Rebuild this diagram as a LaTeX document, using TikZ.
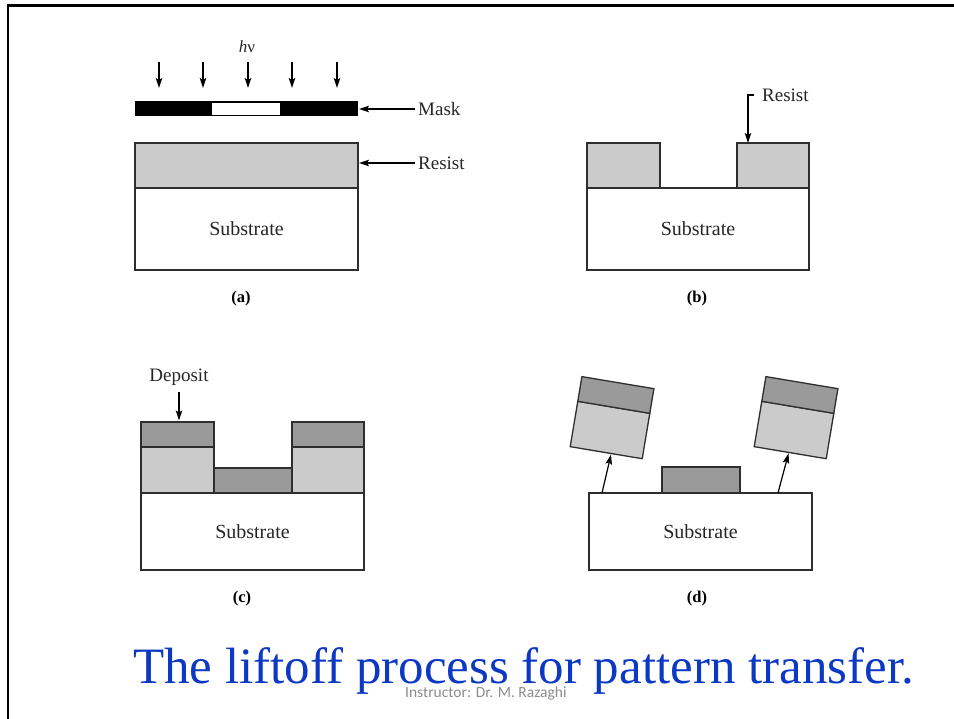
\documentclass[tikz,border=0pt]{standalone}
\usepackage{fontspec}
\setmainfont{Liberation Serif}
\newfontfamily\notefont{Carlito}
\usetikzlibrary{arrows.meta,calc}
\definecolor{resistgray}{HTML}{CBCBCB}
\definecolor{depositgray}{HTML}{9A9A9A}
\definecolor{edgegray}{HTML}{2E2E2E}
\definecolor{inkgray}{HTML}{262626}
\definecolor{titleblue}{RGB}{12,56,196}
\definecolor{notegray}{HTML}{8C8C8C}
\begin{document}
\begin{tikzpicture}[x=1pt,y=-1pt,
  layer/.style={draw=edgegray, line width=1.3pt, inner sep=0pt, outer sep=0pt},
  substrate/.style={layer, fill=white, text=inkgray, font=\fontsize{20}{23}\selectfont},
  resist/.style={layer, fill=resistgray},
  deposit/.style={layer, fill=depositgray},
  maskbar/.style={fill=black, inner sep=0pt, outer sep=0pt},
  opening/.style={fill=white, inner sep=0pt, outer sep=0pt},
  lbl/.style={text=inkgray, inner sep=3pt, font=\fontsize{19}{22}\selectfont},
  caption/.style={text=black, inner sep=0pt, font=\bfseries\fontsize{16.5}{19}\selectfont},
  arr/.style={draw=black, line width=1.2pt, -{Stealth[length=10pt,width=6.5pt,inset=2pt]}}
]
\useasboundingbox (0,0) rectangle (954,719);
% slide frame
\draw[line width=2.6pt, black] (954,5.8) -- (8,5.8) -- (8,719);

% ---------- (a) exposure through the mask ----------
\node[text=inkgray, font=\fontsize{17}{20}\selectfont] (hnu) at (247,47) {{\itshape h}ν};
\foreach \x [count=\i] in {159,203,248,292,337} {
  \coordinate (ha\i) at (\x,62);
  \coordinate (hb\i) at (\x,88);
  \draw[arr] (ha\i) -- (hb\i);
}
\node[maskbar, minimum width=223pt, minimum height=15pt] (mask) at (246.5,109) {};
\node[opening, minimum width=68pt, minimum height=12pt] (gap) at (246,109) {};
\node[resist, minimum width=223pt, minimum height=45pt] (aR) at (246.5,165.5) {};
\node[substrate, minimum width=223pt, minimum height=82pt] (aS) at (246.5,229) {Substrate};
\node[lbl, anchor=west] (masklbl) at (415,109) {Mask};
\node[lbl, anchor=west] (reslbl) at (415,163) {Resist};
\draw[arr] (masklbl.west) -- ([xshift=1pt]mask.east);
\draw[arr] (reslbl.west) -- ([xshift=1pt]aR.east |- reslbl.west);
\node[caption] (capa) at (241,299) {(a)};

% ---------- (b) developed resist ----------
\node[resist, minimum width=73pt, minimum height=45pt] (bRl) at (623.5,165.5) {};
\node[resist, minimum width=72pt, minimum height=45pt] (bRr) at (773,165.5) {};
\node[substrate, minimum width=222pt, minimum height=82pt] (bS) at (698,229) {Substrate};
\node[lbl, anchor=west] (reslbl2) at (759,95) {Resist};
\draw[arr] ([xshift=-5pt]reslbl2.west) -| ([xshift=11pt]bRr.north west);
\node[caption] (capb) at (697,299) {(b)};

% ---------- (c) film deposition ----------
\node[resist, minimum width=73pt, minimum height=46pt] (cRl) at (177.5,470) {};
\node[resist, minimum width=72pt, minimum height=46pt] (cRr) at (328,470) {};
\node[deposit, minimum width=73pt, minimum height=25pt] (cDl) at (177.5,434.5) {};
\node[deposit, minimum width=72pt, minimum height=25pt] (cDr) at (328,434.5) {};
\node[deposit, minimum width=78pt, minimum height=25pt] (cDm) at (253,480.5) {};
\node[substrate, minimum width=223pt, minimum height=77pt] (cS) at (252.5,531.5) {Substrate};
\node[lbl] (deplbl) at (179,377) {Deposit};
\draw[arr, shorten <=3pt] (deplbl.south) -- ([yshift=1.5pt]deplbl.south |- cDl.north);
\node[caption] (capc) at (242,599) {(c)};

% ---------- (d) lift-off ----------
\node[deposit, minimum width=78pt, minimum height=26pt] (dDm) at (701,480) {};
\node[substrate, minimum width=223pt, minimum height=77pt] (dS) at (700.5,531.5) {Substrate};
\node[resist, minimum width=73pt, minimum height=46pt, rotate=-9.5] (dRl) at (610,430) {};
\node[deposit, minimum width=73pt, minimum height=25pt, rotate=-9.5, anchor=south] (dDl) at (dRl.north) {};
\node[resist, minimum width=73pt, minimum height=46pt, rotate=-9.5] (dRr) at (794,430) {};
\node[deposit, minimum width=73pt, minimum height=25pt, rotate=-9.5, anchor=south] (dDr) at (dRr.north) {};
\coordinate (dfl) at ($(dS.north west)+(13,0)$);
\coordinate (dfr) at ($(dS.north west)+(189,0)$);
\draw[arr, shorten >=1pt] (dfl) -- ($(dRl.south west)!0.57!(dRl.south east)$);
\draw[arr, shorten >=1pt] (dfr) -- ($(dRr.south west)!0.48!(dRr.south east)$);
\node[caption] (capd) at (697,599) {(d)};

% ---------- slide title and footer ----------
\node[anchor=base west, inner sep=0pt, text=titleblue, font=\fontsize{51}{56}\selectfont] (title) at (133,683) {The liftoff process for pattern transfer.};
\node[anchor=base west, inner sep=0pt, text=notegray, font=\notefont\fontsize{15.5}{18}\selectfont] (footer) at (405,697) {Instructor: Dr. M. Razaghi};
\end{tikzpicture}
\end{document}
